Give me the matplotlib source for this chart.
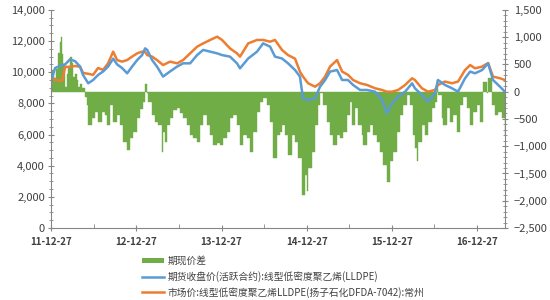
import numpy as np
import pandas as pd
import matplotlib
matplotlib.use('Agg')
import matplotlib.pyplot as plt
import matplotlib.dates as mdates
import matplotlib.ticker as mticker
from matplotlib.patches import Patch
from matplotlib.lines import Line2D

plt.rcParams['font.family'] = ['Noto Sans CJK SC', 'DejaVu Sans']

# futures close / spot price (left axis)
line_dates = ['2011-12-30', '2012-01-13', '2012-02-12', '2012-02-25', '2012-03-17', '2012-04-08',
              '2012-04-29', '2012-05-12', '2012-06-03', '2012-06-24', '2012-07-15', '2012-08-06',
              '2012-08-27', '2012-09-18', '2012-10-05', '2012-10-26', '2012-11-17', '2012-12-08',
              '2012-12-30', '2013-01-20', '2013-02-02', '2013-02-11', '2013-03-04', '2013-03-25',
              '2013-04-20', '2013-05-20', '2013-06-19', '2013-07-15', '2013-08-14', '2013-09-13',
              '2013-10-09', '2013-11-08', '2013-12-08', '2013-12-29', '2014-02-01', '2014-03-03',
              '2014-03-16', '2014-04-20', '2014-05-28', '2014-06-23', '2014-07-23', '2014-08-13',
              '2014-09-12', '2014-10-08', '2014-11-07', '2014-11-28', '2014-12-11', '2015-01-02',
              '2015-02-01', '2015-02-22', '2015-03-16', '2015-04-06', '2015-05-06', '2015-05-28',
              '2015-06-22', '2015-07-14', '2015-08-13', '2015-09-12', '2015-10-16', '2015-11-15',
              '2015-12-06', '2015-12-28', '2016-01-23', '2016-02-22', '2016-03-23', '2016-04-04',
              '2016-05-04', '2016-05-30', '2016-06-29', '2016-07-12', '2016-08-11', '2016-09-10',
              '2016-10-06', '2016-11-05', '2016-11-27', '2016-12-18', '2017-01-17', '2017-02-12',
              '2017-03-05', '2017-04-04', '2017-04-25']
futures = [9600, 10270, 10460, 10500, 10830, 10700, 10360, 9820, 9290, 9500, 9820, 10050,
           10360, 10870, 10500, 10270, 9930, 10360, 10780, 11100, 11530, 11430, 10780, 10360,
           9720, 10050, 10360, 10570, 10570, 11100, 11430, 11320, 11210, 11100, 11000, 10570,
           10250, 10880, 11320, 11850, 11640, 11000, 10880, 10570, 10140, 9720, 8330, 8220,
           8330, 9070, 9500, 10040, 10140, 9500, 9500, 9180, 8860, 8860, 8750, 8220,
           7370, 8010, 8430, 8750, 9290, 8970, 8540, 8110, 8650, 9500, 9180, 8970,
           8750, 9610, 10040, 9930, 10140, 10570, 9500, 9070, 8750]
spot = [9700, 9500, 9450, 10340, 10350, 10400, 10350, 9950, 9900, 9830, 10270, 10150,
        10570, 11320, 10780, 10680, 10780, 11000, 11210, 11320, 11300, 11100, 11000, 10780,
        10460, 10680, 10570, 10780, 11210, 11640, 11850, 12070, 12280, 12070, 11530, 11210,
        11000, 11850, 12070, 12070, 11960, 12070, 11430, 11100, 10870, 10040, 9720, 9290,
        9070, 9290, 9720, 10360, 10780, 10040, 9830, 9500, 9290, 9180, 8970, 8860,
        8750, 8750, 8860, 9180, 9610, 9500, 8970, 8750, 8860, 9180, 9400, 9290,
        9400, 10140, 10460, 10250, 10360, 10590, 9720, 9610, 9500]

# basis (right axis)
basis_dates = ['2011-12-31', '2012-01-09', '2012-01-17', '2012-01-26', '2012-02-04', '2012-02-08',
               '2012-02-12', '2012-02-16', '2012-02-25', '2012-03-05', '2012-03-09', '2012-03-17',
               '2012-03-26', '2012-03-30', '2012-04-08', '2012-04-16', '2012-04-21', '2012-04-29',
               '2012-05-08', '2012-05-21', '2012-05-29', '2012-06-03', '2012-06-20', '2012-07-03',
               '2012-07-15', '2012-08-02', '2012-08-14', '2012-08-23', '2012-09-05', '2012-09-18',
               '2012-10-05', '2012-10-18', '2012-10-31', '2012-11-17', '2012-11-30', '2012-12-13',
               '2012-12-30', '2013-01-12', '2013-01-24', '2013-02-02', '2013-02-11', '2013-02-15',
               '2013-03-04', '2013-03-17', '2013-03-30', '2013-04-16', '2013-04-20', '2013-04-29',
               '2013-05-07', '2013-05-20', '2013-06-02', '2013-06-19', '2013-07-02', '2013-07-15',
               '2013-08-01', '2013-08-14', '2013-08-27', '2013-09-13', '2013-09-26', '2013-10-09',
               '2013-10-26', '2013-11-08', '2013-11-21', '2013-12-08', '2013-12-21', '2014-01-02',
               '2014-01-20', '2014-02-01', '2014-02-14', '2014-03-03', '2014-03-16', '2014-03-29',
               '2014-04-15', '2014-04-28', '2014-05-11', '2014-05-28', '2014-06-10', '2014-06-23',
               '2014-07-10', '2014-07-23', '2014-08-05', '2014-08-22', '2014-09-04', '2014-09-12',
               '2014-09-25', '2014-10-08', '2014-10-25', '2014-11-07', '2014-11-20', '2014-12-07',
               '2014-12-20', '2014-12-28', '2015-01-02', '2015-01-19', '2015-02-01', '2015-02-14',
               '2015-02-22', '2015-03-07', '2015-03-24', '2015-04-06', '2015-04-19', '2015-05-06',
               '2015-05-19', '2015-06-01', '2015-06-18', '2015-07-01', '2015-07-09', '2015-07-22',
               '2015-08-04', '2015-08-21', '2015-08-26', '2015-09-12', '2015-09-25', '2015-10-07',
               '2015-10-25', '2015-11-06', '2015-11-19', '2015-12-06', '2015-12-19', '2016-01-01',
               '2016-01-18', '2016-01-31', '2016-02-13', '2016-03-01', '2016-03-14', '2016-03-27',
               '2016-04-04', '2016-04-13', '2016-04-17', '2016-05-04', '2016-05-17', '2016-05-30',
               '2016-06-16', '2016-06-29', '2016-07-08', '2016-07-12', '2016-07-29', '2016-08-02',
               '2016-08-20', '2016-09-02', '2016-09-14', '2016-10-02', '2016-10-14', '2016-10-27',
               '2016-11-13', '2016-11-26', '2016-12-09', '2016-12-26', '2017-01-08', '2017-01-21',
               '2017-02-07', '2017-02-12', '2017-03-01', '2017-03-14', '2017-03-26', '2017-04-12',
               '2017-04-25']
basis = [400, 250, 420, 710, 920, 1010, 700, 500, 80, 330, 450, 640,
         520, 270, 330, 210, 90, 150, 60, -100, -245, -610, -490, -370,
         -550, -370, -430, -610, -245, -550, -430, -610, -915, -1070, -855, -735,
         -490, -310, -185, 150, -20, -180, -430, -550, -610, -1100, -735, -915,
         -610, -490, -335, -305, -400, -490, -610, -795, -855, -915, -610, -430,
         -610, -795, -980, -950, -980, -855, -735, -490, -430, -610, -980, -795,
         -855, -1100, -735, -370, -180, -120, -245, -550, -1220, -795, -735, -610,
         -795, -1160, -795, -915, -1220, -1895, -1530, -1830, -1405, -1100, -610, -245,
         -30, -245, -550, -795, -980, -795, -855, -735, -430, -180, -610, -305,
         -610, -795, -980, -735, -610, -795, -915, -1100, -1345, -1650, -1280, -1100,
         -735, -430, -245, -60, -245, -795, -1040, -1280, -915, -610, -795, -550,
         -305, -185, 215, -60, -490, -610, -305, -550, -430, -735, -245, -90,
         -305, -610, -370, -245, -550, 185, -30, 245, -245, -430, -370, -490,
         -795]

labels = ['期现价差',
          '期货收盘价(活跃合约):线型低密度聚乙烯(LLDPE)',
          '市场价:线型低密度聚乙烯LLDPE(扬子石化DFDA-7042):常州']

green = '#70AD47'
blue = '#5B9BD5'
orange = '#ED7D31'
txt = '#404040'
spine = '#868686'

ld = pd.to_datetime(line_dates)
bd = pd.to_datetime(basis_dates)
# each bar runs to the next date so the area is filled without gaps
widths = np.append(np.diff(bd).astype('timedelta64[D]').astype(float), 4.0)

fig = plt.figure(figsize=(5.5, 3), dpi=100)
ax = fig.add_axes([0.093, 0.24, 0.825, 0.727])
ax2 = ax.twinx()

ax2.bar(bd, basis, width=widths, align='edge', color=green, edgecolor=green, linewidth=0.3)
ax.plot(ld, spot, color=orange, lw=1.8)
ax.plot(ld, futures, color=blue, lw=1.8)

ax.set_zorder(2)
ax2.set_zorder(1)
ax.patch.set_visible(False)

ax.set_ylim(0, 14000)
ax2.set_ylim(-2500, 1500)
ax.set_xlim(pd.Timestamp('2011-12-27'), pd.Timestamp('2017-04-25'))

ax.yaxis.set_major_locator(mticker.MultipleLocator(2000))
ax.yaxis.set_minor_locator(mticker.MultipleLocator(500))
ax.yaxis.set_major_formatter(mticker.StrMethodFormatter('{x:,.0f}'))
ax2.yaxis.set_major_locator(mticker.MultipleLocator(500))
ax2.yaxis.set_minor_locator(mticker.MultipleLocator(100))
ax2.yaxis.set_major_formatter(mticker.StrMethodFormatter('{x:,.0f}'))

ax.xaxis.set_major_locator(mdates.YearLocator(month=12, day=27))
ax.xaxis.set_minor_locator(mdates.MonthLocator(bymonth=6, bymonthday=27))
ax.xaxis.set_major_formatter(mdates.DateFormatter('%y-%m-%d'))

for a in (ax, ax2):
    for s in a.spines.values():
        s.set_color(spine)
        s.set_linewidth(0.8)
    a.spines['top'].set_visible(False)
ax.spines['right'].set_visible(False)
ax2.spines['left'].set_visible(False)
ax2.spines['bottom'].set_visible(False)

ax.tick_params(axis='y', which='major', direction='inout', length=5, color=spine,
               labelsize=8, labelcolor=txt, pad=2)
ax.tick_params(axis='y', which='minor', direction='inout', length=3, color=spine)
ax.tick_params(axis='x', which='major', direction='inout', length=5, color=spine,
               labelsize=7, labelcolor=txt, pad=4)
ax.tick_params(axis='x', which='minor', direction='in', length=3, color=spine)
for t in ax.get_xticklabels():
    t.set_fontweight('bold')
ax2.tick_params(axis='y', which='major', direction='inout', length=5, color=spine,
                labelsize=8, labelcolor=txt, pad=4)
ax2.tick_params(axis='y', which='minor', direction='inout', length=3, color=spine)

handles = [Patch(facecolor=green, edgecolor='none'),
           Line2D([0], [0], color=blue, lw=1.8),
           Line2D([0], [0], color=orange, lw=1.8)]
leg = fig.legend(handles, labels, loc='upper left', bbox_to_anchor=(0.25, 0.163),
                 frameon=False, fontsize=7, handlelength=2.2, handleheight=0.5,
                 labelspacing=0.5, borderpad=0, handletextpad=0.4)
for t in leg.get_texts():
    t.set_color(txt)

fig.savefig('out.png', dpi=100)
